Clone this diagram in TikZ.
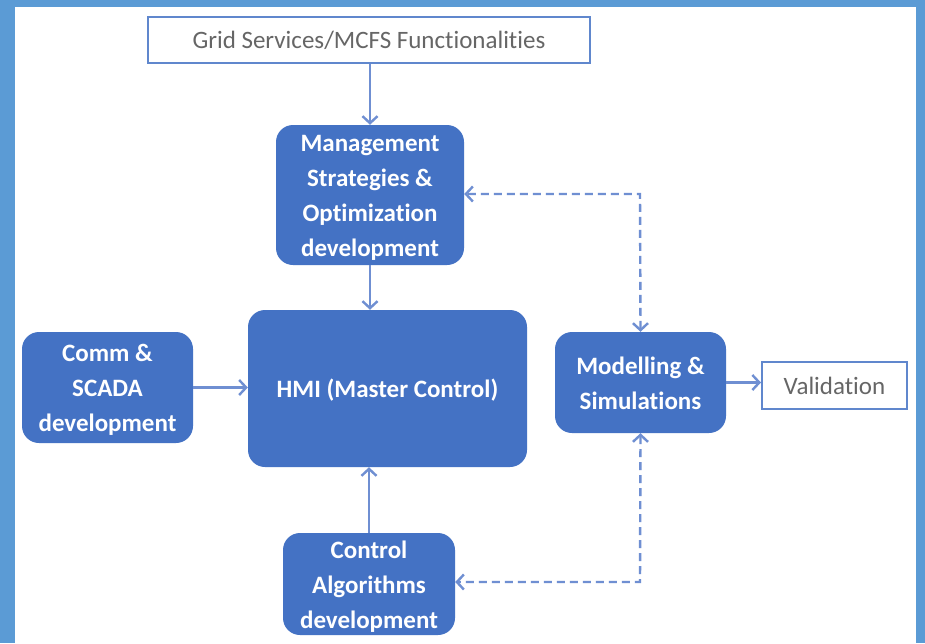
\documentclass[tikz,border=0pt]{standalone}
\usepackage{fontspec}
\setmainfont{Carlito}[Ligatures=NoCommon]
\usetikzlibrary{arrows.meta}
\definecolor{frameblue}{HTML}{5B9BD5}
\definecolor{boxblue}{HTML}{4472C4}
\definecolor{arrblue}{HTML}{6F8FD2}
\definecolor{txtgray}{HTML}{666666}
\newcommand{\topstrut}{\rule{0pt}{24pt}}
\newcommand{\botstrut}{\rule[-5.5pt]{0pt}{5.5pt}}
\tikzset{
  bluebox/.style={fill=boxblue, draw=none, rounded corners=17pt, text=white, font=\fontsize{25}{35}\selectfont\bfseries, align=center, inner sep=0pt},
  whitebox/.style={fill=white, draw=boxblue!85!white, line width=2pt, text=txtgray, font=\fontsize{25}{28}\selectfont, inner sep=0pt},
  conn/.style={draw=arrblue, line width=2.4pt, -{Straight Barb[length=7pt,width=15pt,line width=2.4pt]}},
  dconn/.style={draw=arrblue, line width=2.4pt, dash pattern=on 8pt off 5pt, {Straight Barb[length=7pt,width=15pt,line width=2.4pt]}-{Straight Barb[length=7pt,width=15pt,line width=2.4pt]}}
}
\begin{document}
\begin{tikzpicture}[x=1pt,y=-1pt]
\useasboundingbox (0,0) rectangle (925,643);
\fill[frameblue] (0,0) rectangle (925,643);
\fill[white] (15,7) rectangle (916,643);

\node[whitebox, minimum width=442pt, minimum height=46pt] (grid) at (369,40) {\rule{0pt}{19pt}Grid Services/MCFS Functionalities};
\node[bluebox, minimum width=188pt, minimum height=140pt] (mgmt) at (370,195) {\topstrut Management\\Strategies \&\\Optimization\\development\botstrut};
\node[bluebox, minimum width=279pt, minimum height=157pt] (hmi) at (387.5,388.5) {\topstrut HMI (Master Control)\botstrut};
\node[bluebox, minimum width=171pt, minimum height=111pt] (comm) at (107.5,387.5) {\topstrut Comm \&\\SCADA\\development\botstrut};
\node[bluebox, minimum width=171pt, minimum height=101pt] (model) at (640.5,382.5) {\topstrut Modelling \&\\Simulations\botstrut};
\node[whitebox, minimum width=145pt, minimum height=47pt] (valid) at (834.5,385.5) {Validation};
\node[bluebox, minimum width=172pt, minimum height=102pt] (ctrl) at (369,584) {\topstrut Control\\Algorithms\\development\botstrut};

\draw[conn] (grid.south -| mgmt.north) -- (mgmt.north);
\draw[conn] (mgmt.south) -- (mgmt.south |- hmi.north);
\draw[conn] (comm.east) -- (comm.east -| hmi.west);
\draw[conn] (ctrl.north) -- (ctrl.north |- hmi.south);
\draw[conn] (model.east) -- (model.east -| valid.west);

\coordinate (c1) at (640,194);
\coordinate (c2) at (640,582);
\draw[dconn] (model.north) -- (c1) -- (c1 -| mgmt.east);
\draw[dconn] (model.south) -- (c2) -- (c2 -| ctrl.east);
\end{tikzpicture}
\end{document}
